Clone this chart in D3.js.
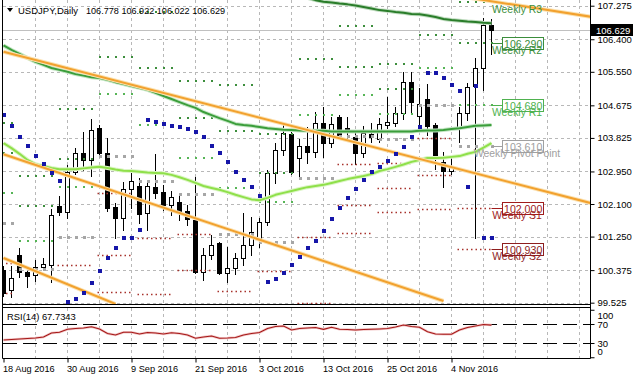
<!DOCTYPE html>
<html><head><meta charset="utf-8">
<script src="https://cdn.jsdelivr.net/npm/d3@7"></script>
<style>
html,body{margin:0;padding:0;background:#fff;}
svg{display:block;}
text{font-family:"Liberation Sans",Arial,sans-serif;}
</style></head><body>
<svg id="c" width="633" height="379"></svg>
<script>
// ---------- DATA ----------
const symbolTitle = "USDJPY,Daily";
const titleValues = "106.778 106.922 106.022 106.629";
const lastPrice = 106.629;
const priceTicks = [107.275,106.400,105.550,104.675,103.825,102.950,102.100,101.250,100.375,99.525];
const rsiTicks = [100,70,30,0];
const rsiLevels = [70,30];
const dateLabels = ["18 Aug 2016","30 Aug 2016","9 Sep 2016","21 Sep 2016","3 Oct 2016","13 Oct 2016","25 Oct 2016","4 Nov 2016"];
const dateBars = [0,8,16,24,32,40,48,56];

const open  = [100.378,99.856,100.770,100.326,100.248,100.456,100.509,102.048,101.892,102.936,103.432,103.236,104.084,103.432,102.022,101.735,102.484,102.578,101.866,102.553,102.422,102.067,102.160,101.926,101.683,100.326,100.757,101.075,100.308,100.422,100.684,101.031,101.205,101.639,102.902,103.497,103.940,103.293,103.614,103.465,104.214,103.685,104.379,104.080,103.849,103.439,103.927,103.804,104.162,104.222,104.483,105.292,104.397,104.833,104.162,103.204,102.969,104.076,104.467,105.167,105.642,106.778];
const high  = [100.482,100.482,100.952,100.456,100.639,100.691,101.970,102.309,103.119,103.562,103.987,104.318,104.162,103.823,102.127,102.675,102.944,102.779,102.682,103.406,102.596,102.440,102.336,102.075,102.805,100.952,101.292,101.109,100.978,100.822,101.866,101.761,101.735,102.988,103.705,104.162,104.006,103.797,104.097,104.501,104.631,104.371,104.423,104.379,103.953,104.136,104.214,104.337,104.884,104.623,105.558,105.553,105.135,105.220,104.206,103.465,103.380,104.639,105.250,105.903,106.950,106.922];
const low   = [99.699,99.673,100.195,99.934,100.091,100.378,100.065,101.814,101.735,102.884,102.988,102.831,103.327,101.918,101.213,101.422,101.996,101.605,101.422,102.257,101.944,101.814,101.683,101.553,100.300,100.117,100.665,100.274,100.065,100.274,100.509,100.770,100.978,101.553,102.656,103.380,102.884,102.831,103.178,103.314,103.335,103.596,103.841,103.771,103.137,103.335,103.718,103.726,104.076,104.136,104.311,104.449,104.162,103.901,103.006,102.552,102.884,103.726,104.292,101.205,105.075,106.022];
const close = [99.778,100.169,100.326,100.222,100.456,100.535,101.814,101.892,102.936,103.432,103.236,104.019,103.419,101.996,101.735,102.479,102.688,101.840,102.570,102.396,102.062,102.275,101.900,101.701,100.326,100.770,101.031,100.308,100.422,100.699,101.031,101.378,101.639,102.902,103.497,103.945,102.944,103.606,103.465,104.206,103.680,104.188,103.901,103.990,103.439,103.945,103.836,104.180,104.232,104.483,105.292,104.770,104.710,104.136,103.293,102.969,103.092,104.467,105.146,105.642,106.778,106.629];

const sar = [104.423,104.136,103.849,103.614,103.353,103.144,102.909,102.701,99.543,99.621,99.778,100.039,100.352,100.691,100.952,101.213,101.213,101.422,104.292,104.240,104.188,104.136,104.110,104.058,103.979,103.849,103.614,103.431,103.196,102.935,102.727,102.544,102.309,100.065,100.143,100.300,100.509,100.717,100.952,101.135,101.396,101.709,101.996,102.257,102.492,102.727,102.935,103.066,103.222,103.405,103.588,103.849,104.110,105.519,105.519,105.389,105.206,105.049,102.544,105.180,101.213,101.213];

const maSlow = [106.24,106.12,106.02,105.91,105.81,105.73,105.65,105.60,105.55,105.49,105.45,105.41,105.39,105.34,105.28,105.23,105.18,105.13,105.08,105.00,104.92,104.84,104.76,104.68,104.61,104.50,104.42,104.34,104.27,104.19,104.16,104.14,104.11,104.08,104.06,104.04,104.03,104.02,104.01,104.01,104.01,103.99,103.99,103.99,103.99,103.99,103.99,103.99,103.99,103.99,103.99,103.99,104.01,104.02,104.02,104.03,104.06,104.08,104.11,104.14,104.15,104.16];
const maFast = [103.69,103.56,103.41,103.25,103.14,103.09,103.04,103.01,103.01,103.01,103.03,103.05,103.07,103.04,103.00,102.97,102.96,102.94,102.92,102.91,102.90,102.86,102.80,102.73,102.65,102.57,102.52,102.47,102.41,102.34,102.28,102.22,102.20,102.26,102.34,102.39,102.44,102.49,102.54,102.57,102.60,102.65,102.70,102.75,102.79,102.83,102.88,102.96,103.01,103.07,103.13,103.20,103.25,103.30,103.30,103.31,103.33,103.35,103.41,103.46,103.57,103.69];
const maLongStart = 36;
const maLong = [107.58,107.53,107.48,107.42,107.38,107.36,107.33,107.31,107.28,107.24,107.20,107.16,107.14,107.11,107.09,107.06,107.05,107.02,106.98,106.93,106.90,106.88,106.86,106.85,106.83,106.82];

const rsi = [36.3,37.4,38.4,39.5,40.5,42.6,51.1,52.5,58.8,60.5,61.6,64.3,59.5,50.0,46.8,52.5,52.5,48.9,52.1,51.1,48.9,51.7,50.0,46.8,39.9,42.6,44.7,39.9,40.5,41.6,46.8,50.0,52.1,60.5,64.7,65.8,57.4,60.5,61.6,62.6,58.8,63.1,58.8,58.4,57.4,58.4,58.8,59.5,60.5,63.7,67.9,64.7,63.1,53.8,48.9,48.3,48.3,57.4,62.6,65.8,68.9,67.73];
const rsiLabel = "RSI(14) 67.7343";

// trend lines: [bar1, price1, bar2, price2]
const trendLines = [
  [0,106.075,73.375,102.127],
  [0,103.397,55,99.569],
  [0,100.691,14,99.491],
  [55,107.586,73.375,106.988]
];

// weekly pivots
const weekStart = [0,2,7,12,17,22,27,32,37,42,47,52,57];
const weekEnd   = [1,6,11,16,21,26,31,36,41,46,51,56,61];
const pivR3 = [104.21,102.84,104.58,null,107.11,105.30,105.21,103.94,null,106.74,105.75,null,107.36];
const pivR2 = [103.42,102.05,103.28,105.94,105.64,104.35,104.01,102.90,105.88,105.68,105.09,106.52,106.29];
const pivR1 = [102.39,101.13,102.54,104.98,104.16,103.31,102.52,102.14,104.41,104.94,104.46,105.64,104.68];
const pivPP = [101.60,100.40,101.24,103.36,102.69,102.37,101.32,101.10,102.77,103.88,103.80,104.69,103.61];
const pivS1 = [100.57,null,100.51,102.40,101.21,101.33,99.83,100.34,101.23,103.14,103.18,103.81,102.00];
const pivS2 = [99.78,null,null,100.77,99.74,100.38,null,null,99.51,102.08,102.51,102.85,100.93];
const pivS3 = [null,null,null,99.81,null,null,null,null,null,101.34,101.89,101.98,null];
const pivNames = ["Weekly R3","Weekly R2","Weekly R1","Weekly Pivot Point","Weekly S1","Weekly S2"];

// ---------- DRAW ----------
const svg = d3.select("#c");
const x = d3.scaleLinear().domain([0,73.375]).range([3.5,590.5]);
const y = d3.scaleLinear().domain([99.595,107.424]).range([300,0]);
const yr = d3.scaleLinear().domain([0,100]).range([357.25,309.75]);
const px = v => Math.round(v)+0.5;

const defs = svg.append("defs");
defs.append("clipPath").attr("id","cm").append("rect").attr("x",3).attr("y",0).attr("width",587).attr("height",304);
defs.append("clipPath").attr("id","cr").append("rect").attr("x",3).attr("y",308).attr("width",587).attr("height",50);

// grid
const grid = svg.append("g").attr("stroke","#b8b8b8").attr("stroke-width",1).attr("stroke-dasharray","3,3");
d3.range(4,73,4).forEach(b=>{
  grid.append("line").attr("x1",x(b)).attr("x2",x(b)).attr("y1",0).attr("y2",304);
  grid.append("line").attr("x1",x(b)).attr("x2",x(b)).attr("y1",308).attr("y2",358);
});
priceTicks.forEach(p=>{
  grid.append("line").attr("x1",3).attr("x2",590).attr("y1",px(y(p))).attr("y2",px(y(p)));
});

const main = svg.append("g").attr("clip-path","url(#cm)");

// current price line
main.append("line").attr("x1",3).attr("x2",590).attr("y1",px(y(lastPrice))).attr("y2",px(y(lastPrice)))
  .attr("stroke","#c0c0c0").attr("stroke-width",1);

// candles
const idx = d3.range(open.length);
const cg = main.append("g");
idx.forEach(i=>{
  const cx = x(i);
  cg.append("line").attr("x1",cx).attr("x2",cx).attr("y1",Math.round(y(high[i]))).attr("y2",Math.round(y(low[i]))+1)
    .attr("stroke","#000").attr("stroke-width",1);
  const t = Math.round(y(Math.max(open[i],close[i])));
  const b = Math.round(y(Math.min(open[i],close[i])));
  cg.append("rect").attr("x",cx-2).attr("y",t+0.5).attr("width",4).attr("height",Math.max(b-t,0))
    .attr("fill", close[i] < open[i] ? "#000" : "#fff").attr("stroke","#000").attr("stroke-width",1);
});

// pivots
const pivSets = [
  {v:pivR3, c:"#3c8e3c", kind:"dot"},
  {v:pivR2, c:"#3c8e3c", kind:"dot"},
  {v:pivR1, c:"#56b556", kind:"dot"},
  {v:pivPP, c:"#a6a6a6", kind:"sq"},
  {v:pivS1, c:"#a8322c", kind:"dash"},
  {v:pivS2, c:"#a8322c", kind:"dash"},
  {v:pivS3, c:"#a8322c", kind:"dash"}
];
const pg = main.append("g");
pivSets.forEach(s=>{
  s.v.forEach((val,w)=>{
    if(val===null) return;
    const yy = Math.round(y(val));
    if(s.kind==="dash"){
      pg.append("line").attr("x1",x(weekStart[w])-2).attr("x2",x(weekEnd[w])+2).attr("y1",yy+0.5).attr("y2",yy+0.5)
        .attr("stroke",s.c).attr("stroke-width",1.3).attr("stroke-dasharray","1.5,3");
    } else {
      const sz = s.kind==="sq" ? 3 : 2;
      d3.range(weekStart[w],weekEnd[w]+1).forEach(b=>{
        pg.append("rect").attr("x",Math.round(x(b))-1).attr("y",yy-1).attr("width",sz).attr("height",sz).attr("fill",s.c);
      });
    }
  });
});

// moving averages
const lineGen = d3.line().x(d=>x(d[0])).y(d=>y(d[1]));
function drawLine(data, color, w, halo){
  if(halo) main.append("path").attr("d",lineGen(data)).attr("fill","none").attr("stroke",halo).attr("stroke-width",w+2).attr("stroke-linejoin","round");
  main.append("path").attr("d",lineGen(data)).attr("fill","none").attr("stroke",color).attr("stroke-width",w).attr("stroke-linejoin","round");
}
drawLine(maSlow.map((v,i)=>[i,v]), "#3b9e3b", 2, "#c5e6c5");
drawLine(maFast.map((v,i)=>[i,v]), "#8fe04a", 2, "#dcf5c6");
drawLine(maLong.map((v,i)=>[i+maLongStart,v]), "#2a7d2a", 2, "#c0dcc0");

// trend lines
trendLines.forEach(t=>{
  drawLine([[t[0],t[1]],[t[2],t[3]]], "#f2a12e", 2, "#fbe2b2");
});

// SAR
main.append("g").selectAll("rect").data(idx).join("rect")
  .attr("x",i=>Math.round(x(i))-2).attr("y",i=>Math.round(y(sar[i]))-2)
  .attr("width",4).attr("height",4).attr("fill","#1616a8");

// weekly labels (current week)
const lastW = weekStart.length-1;
const curLevels = [pivR3[lastW],pivR2[lastW],pivR1[lastW],pivPP[lastW],pivS1[lastW],pivS2[lastW]];
const labColors = ["#3c8e3c","#3c8e3c","#4fb24f","#a0a0a0","#a01c1c","#8e1e1e"];
const lg = svg.append("g");
curLevels.forEach((val,k)=>{
  const yy = Math.round(y(val));
  if(k>0){
    lg.append("line").attr("x1",x(weekEnd[lastW])).attr("x2",502.5).attr("y1",yy+0.5).attr("y2",yy+0.5).attr("stroke",labColors[k]).attr("stroke-width",1);
    lg.append("rect").attr("x",502.5).attr("y",yy-5.5).attr("width",41).attr("height",12).attr("fill","#fff").attr("stroke",labColors[k]).attr("stroke-width",1);
    lg.append("text").attr("x",504).attr("y",yy+4.5).attr("font-size","10.6px").attr("fill",labColors[k]).text(d3.format(".3f")(val));
  }
  lg.append("text").attr("x",517).attr("y",Math.max(yy,2)+10.5).attr("text-anchor","middle").attr("font-size","10.4px").attr("fill",labColors[k]).text(pivNames[k]);
});

// RSI pane
const rg = svg.append("g").attr("clip-path","url(#cr)");
rsiLevels.forEach(l=>{
  rg.append("line").attr("x1",3).attr("x2",590).attr("y1",px(yr(l))).attr("y2",px(yr(l)))
    .attr("stroke","#000").attr("stroke-width",1).attr("stroke-dasharray","14,6");
});
const rsiLine = d3.line().x((d,i)=>x(i)).y(d=>yr(d));
rg.append("path").attr("d",rsiLine(rsi)).attr("fill","none").attr("stroke","#f2c6c6").attr("stroke-width",2.5);
rg.append("path").attr("d",rsiLine(rsi)).attr("fill","none").attr("stroke","#a51818").attr("stroke-width",1.1);
svg.append("text").attr("x",7).attr("y",319.5).attr("font-size","9.4px").attr("fill","#000").text(rsiLabel);

// frames
const fr = svg.append("g").attr("fill","none").attr("stroke","#000").attr("stroke-width",1);
fr.append("line").attr("x1",2.5).attr("x2",2.5).attr("y1",0).attr("y2",358.5);
fr.append("line").attr("x1",590.5).attr("x2",590.5).attr("y1",0).attr("y2",358.5);
fr.append("line").attr("x1",2.5).attr("x2",590.5).attr("y1",304.5).attr("y2",304.5);
fr.append("line").attr("x1",2.5).attr("x2",590.5).attr("y1",307.5).attr("y2",307.5);
fr.append("line").attr("x1",2.5).attr("x2",590.5).attr("y1",358.5).attr("y2",358.5);

// price axis
const pAxis = svg.append("g").attr("transform","translate(590.5,0)")
  .call(d3.axisRight(y).tickValues(priceTicks).tickFormat(d3.format(".3f")).tickSize(4).tickPadding(3));
pAxis.select(".domain").remove();
pAxis.selectAll("text").attr("font-size","9.5px").attr("font-family","Liberation Sans, Arial, sans-serif").attr("fill","#000");
pAxis.selectAll("line").attr("stroke","#000");

// rsi axis
const rAxis = svg.append("g").attr("transform","translate(590.5,0)")
  .call(d3.axisRight(yr).tickValues(rsiTicks).tickFormat(d3.format("d")).tickSize(4).tickPadding(3));
rAxis.select(".domain").remove();
rAxis.selectAll("text").attr("font-size","9.5px").attr("font-family","Liberation Sans, Arial, sans-serif").attr("fill","#000")
  .attr("dy",d=> d===100 ? "0.9em" : (d===0 ? "-0.25em" : "0.32em"));
rAxis.selectAll("line").attr("stroke","#000");

// current price tag
svg.append("rect").attr("x",591).attr("y",Math.round(y(lastPrice))-6).attr("width",42).attr("height",12).attr("fill","#000");
svg.append("text").attr("x",596).attr("y",Math.round(y(lastPrice))+4).attr("font-size","9.5px").attr("fill","#fff").text(d3.format(".3f")(lastPrice));

// date axis
const dAxis = svg.append("g").attr("transform","translate(0,358.5)")
  .call(d3.axisBottom(x).tickValues(dateBars).tickFormat((d,i)=>dateLabels[i]).tickSize(4).tickPadding(3));
dAxis.select(".domain").remove();
dAxis.selectAll("line").attr("stroke","#000");
dAxis.selectAll("text").attr("text-anchor","start").attr("dx","-1").attr("font-size","9.2px")
  .attr("font-family","Liberation Sans, Arial, sans-serif").attr("fill","#000");

// title
svg.append("path").attr("d","M7,8 L13,8 L10,12 Z").attr("fill","#000");
svg.append("text").attr("x",18).attr("y",14).attr("font-size","9.5px").attr("fill","#000").text(symbolTitle);
svg.append("text").attr("x",86).attr("y",14).attr("font-size","9.1px").attr("fill","#000").text(titleValues);
</script>
</body></html>
